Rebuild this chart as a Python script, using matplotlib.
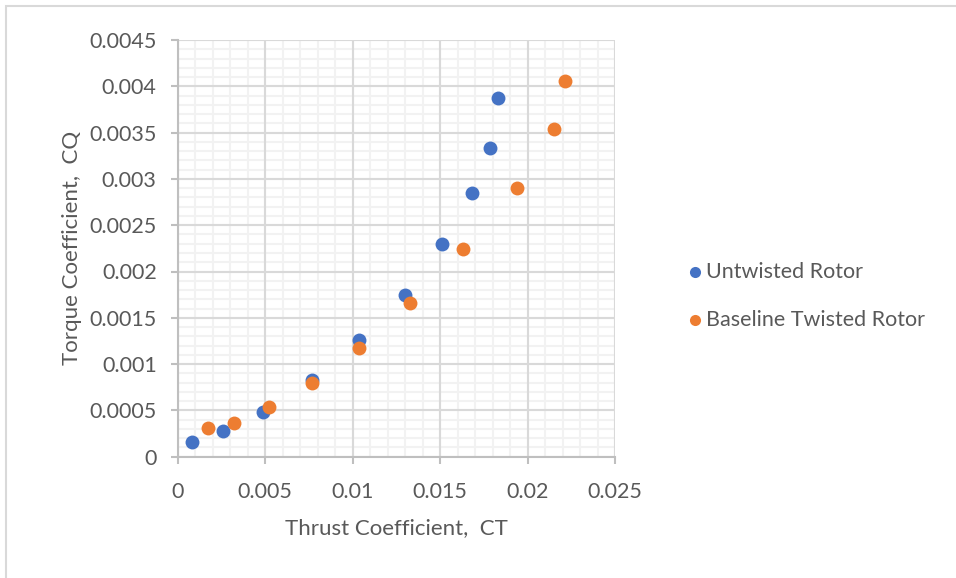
import numpy as np
import matplotlib.pyplot as plt
from matplotlib.patches import Rectangle

# thrust / torque coefficients
ct_untwisted = [0.00081, 0.00262, 0.00490, 0.00767, 0.01039, 0.01300, 0.01513, 0.01681, 0.01786, 0.01833]
cq_untwisted = [0.000162, 0.000278, 0.000479, 0.000828, 0.00126, 0.001746, 0.002297, 0.002845, 0.00333, 0.003877]

ct_twisted = [0.00173, 0.00323, 0.00523, 0.00767, 0.01039, 0.01329, 0.01633, 0.01938, 0.02151, 0.02213]
cq_twisted = [0.000307, 0.000367, 0.00054, 0.000793, 0.001171, 0.001663, 0.00224, 0.002902, 0.003536, 0.004054]

series_names = ['Untwisted Rotor', 'Baseline Twisted Rotor']
x_ticks = [0, 0.005, 0.01, 0.015, 0.02, 0.025]
y_ticks = [0, 0.0005, 0.001, 0.0015, 0.002, 0.0025, 0.003, 0.0035, 0.004, 0.0045]

blue = '#4472c4'
orange = '#ed7d31'
txt = '#595959'

plt.rcParams['font.family'] = ['Lato', 'DejaVu Sans']

W, H = 956, 578
fig = plt.figure(figsize=(W / 100, H / 100), dpi=100)

# chart area border (Excel style)
fig.patches.append(Rectangle((6 / W, -0.1), 1.2, 1 - 6 / H + 0.1, transform=fig.transFigure,
                             fill=False, edgecolor='#d9d9d9', linewidth=1.5))

ax = fig.add_axes((177.5 / W, 1 - 456.7 / H, (615 - 177.5) / W, (456.7 - 40) / H))
ax.scatter(ct_untwisted, cq_untwisted, s=100, color=blue, label=series_names[0], zorder=3, linewidths=0)
ax.scatter(ct_twisted, cq_twisted, s=100, color=orange, label=series_names[1], zorder=4, linewidths=0)

ax.set_xlim(0, 0.025)
ax.set_ylim(0, 0.0045)
ax.set_xticks(x_ticks)
ax.set_yticks(y_ticks)
ax.set_xticklabels([f'{v:g}' for v in x_ticks])
ax.set_yticklabels([f'{v:g}' for v in y_ticks])

# minor grid under the major one
minor_x = np.linspace(0, 0.025, 26)
minor_y = np.linspace(0, 0.0045, 46)
ax.vlines(minor_x, 0, 0.0045, color='#f2f2f2', linewidth=1.5, zorder=0)
ax.hlines(minor_y, 0, 0.025, color='#f2f2f2', linewidth=1.5, zorder=0)
ax.grid(which='major', color='#d9d9d9', linewidth=1.5)
ax.set_axisbelow(True)

for s in ['top', 'right']:
    ax.spines[s].set_visible(False)
for s in ['left', 'bottom']:
    ax.spines[s].set_color('#bfbfbf')
    ax.spines[s].set_linewidth(1.5)

ax.tick_params(which='major', length=5, width=1.5, color='#bfbfbf', labelcolor=txt, labelsize=15.5, pad=10)
ax.tick_params(axis='x', pad=13)

ax.set_xlabel('Thrust Coefficient,  CT', fontsize=16, color=txt, labelpad=12)
ax.set_ylabel('Torque Coefficient,  CQ', fontsize=16, color=txt, labelpad=5)

ax.legend(loc='center left', bbox_to_anchor=(689 / W, 1 - 296 / H), bbox_transform=fig.transFigure,
          frameon=False, fontsize=15.5, labelcolor=txt, borderpad=0, borderaxespad=0,
          handlelength=0.6, handletextpad=0.2, labelspacing=1.3, markerscale=0.8)

fig.savefig('out.png', dpi=100)
